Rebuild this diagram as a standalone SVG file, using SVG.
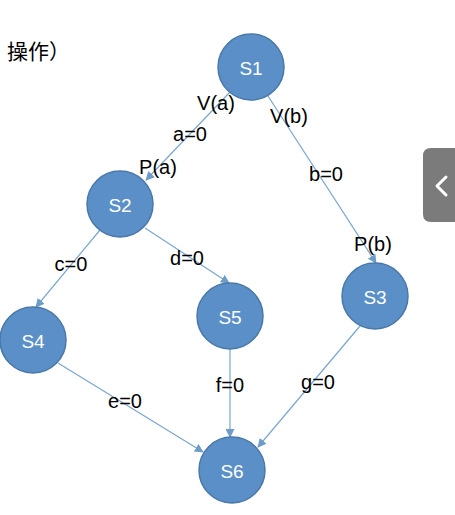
<svg xmlns="http://www.w3.org/2000/svg" width="455" height="515" viewBox="0 0 455 515">
<style>
.node circle{fill:#5b8fc8;stroke:#4a78a8;stroke-width:1.5}
.node text{fill:#fff;font-family:"Liberation Sans",Arial,sans-serif;font-size:19px;text-anchor:middle;dominant-baseline:central}
.edge{stroke:#7aa6cf;stroke-width:1.2;fill:none;marker-end:url(#arr)}
.lbl{font-family:"Liberation Sans",Arial,sans-serif;font-size:20px;fill:#000;text-anchor:middle}
</style>
<defs>
<marker id="arr" viewBox="0 0 10 10" refX="9" refY="5" markerWidth="9" markerHeight="9" orient="auto" markerUnits="userSpaceOnUse">
<path d="M0,0 L10,5 L0,10 z" fill="#6d9cc9"/>
</marker>
</defs>
<rect width="455" height="515" fill="#fff"/>
<text x="7" y="59" font-family="'Noto Sans CJK SC',sans-serif" font-size="21" fill="#000">操作）</text>
<g id="tab">
<path d="M455,148 L431,148 Q423,148 423,156 L423,214 Q423,222 431,222 L455,222 Z" fill="#7b7b7b"/>
<path d="M446,177 L437,186 L446,195" stroke="#fff" stroke-width="3" fill="none" stroke-linecap="round" stroke-linejoin="round"/>
</g>
<g id="connectors">
<line class="edge" x1="230" y1="92" x2="146" y2="180"/>
<line class="edge" x1="268" y1="96" x2="376" y2="263"/>
<line class="edge" x1="100" y1="230" x2="36" y2="307"/>
<line class="edge" x1="145" y1="228" x2="229" y2="283"/>
<line class="edge" x1="230" y1="348" x2="230" y2="437"/>
<line class="edge" x1="58" y1="363" x2="203" y2="452"/>
<line class="edge" x1="360" y1="326" x2="258" y2="447"/>
</g>
<g id="labels">
<text class="lbl" x="216" y="110">V(a)</text>
<text class="lbl" x="190" y="141">a=0</text>
<text class="lbl" x="158" y="174">P(a)</text>
<text class="lbl" x="289" y="123">V(b)</text>
<text class="lbl" x="326" y="181">b=0</text>
<text class="lbl" x="373" y="251">P(b)</text>
<text class="lbl" x="71" y="271">c=0</text>
<text class="lbl" x="187" y="265">d=0</text>
<text class="lbl" x="230" y="392">f=0</text>
<text class="lbl" x="125" y="408">e=0</text>
<text class="lbl" x="318" y="389">g=0</text>
</g>
<g id="S1" class="node"><circle cx="251" cy="67" r="33"/><text x="251" y="68">S1</text></g>
<g id="S2" class="node"><circle cx="120" cy="204" r="33"/><text x="120" y="205">S2</text></g>
<g id="S3" class="node"><circle cx="375" cy="296" r="33"/><text x="375" y="297">S3</text></g>
<g id="S4" class="node"><circle cx="33" cy="340" r="33"/><text x="33" y="341">S4</text></g>
<g id="S5" class="node"><circle cx="230" cy="316" r="33"/><text x="230" y="317">S5</text></g>
<g id="S6" class="node"><circle cx="232" cy="470" r="33"/><text x="232" y="471">S6</text></g>
</svg>
